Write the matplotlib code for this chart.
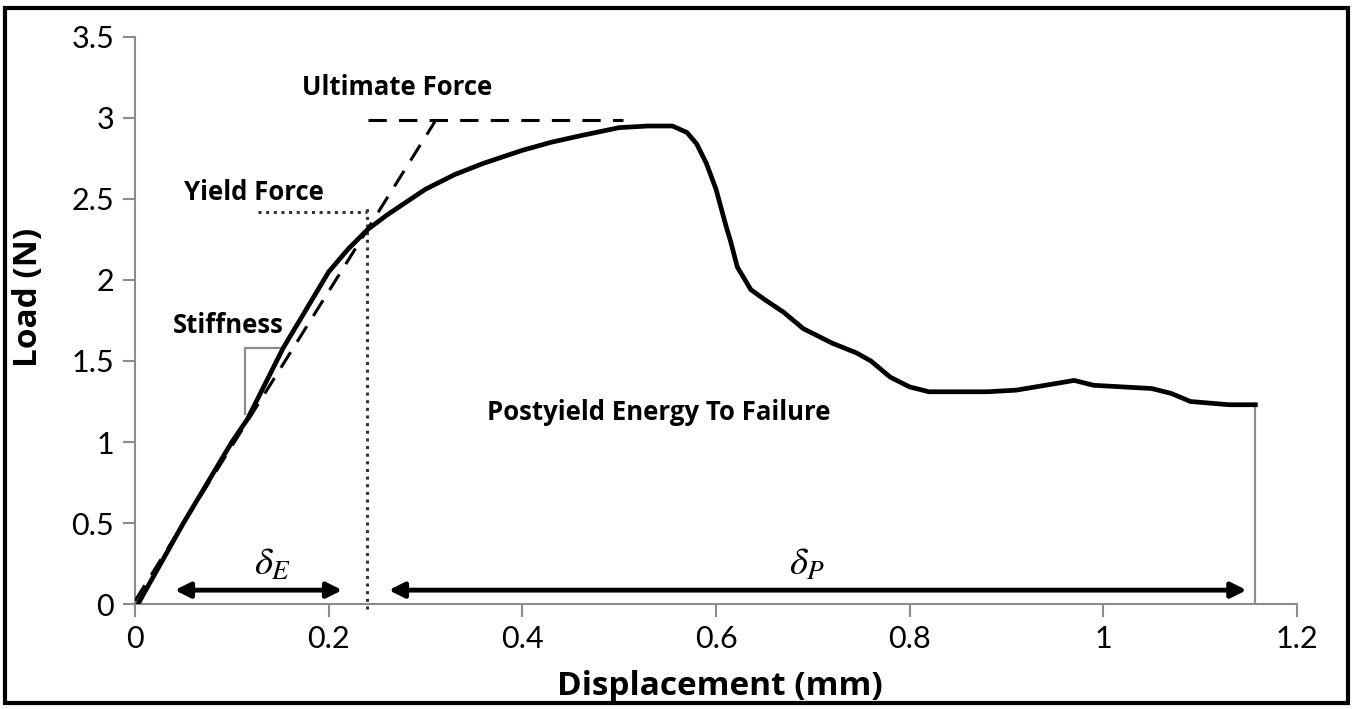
import matplotlib
matplotlib.use("Agg")
import matplotlib.pyplot as plt
from matplotlib.patches import Rectangle

# load-displacement curve
disp = [0.003, 0.05, 0.10, 0.116, 0.153, 0.20, 0.22, 0.24, 0.26, 0.28, 0.30,
        0.33, 0.36, 0.40, 0.43, 0.46, 0.50, 0.53, 0.555, 0.57, 0.58, 0.59,
        0.60, 0.605, 0.61, 0.615, 0.622, 0.63, 0.636, 0.65, 0.67, 0.69, 0.72,
        0.745, 0.76, 0.78, 0.80, 0.82, 0.85, 0.88, 0.91, 0.94, 0.97, 0.99,
        1.02, 1.05, 1.07, 1.09, 1.11, 1.13, 1.157]
load = [0.00, 0.50, 1.00, 1.14, 1.58, 2.05, 2.19, 2.31, 2.40, 2.48, 2.56,
        2.65, 2.72, 2.80, 2.85, 2.89, 2.94, 2.95, 2.95, 2.91, 2.84, 2.72,
        2.56, 2.45, 2.34, 2.24, 2.08, 2.00, 1.94, 1.88, 1.80, 1.70, 1.61,
        1.55, 1.50, 1.40, 1.34, 1.31, 1.31, 1.31, 1.32, 1.35, 1.38, 1.35,
        1.34, 1.33, 1.30, 1.25, 1.24, 1.23, 1.23]

# construction lines
stiff_x = [0.0, 0.31]
stiff_y = [0.02, 2.98]
ult_x = [0.241, 0.504]
ult_y = 2.99
yield_x = 0.240
yield_y = 2.42
yield_top = 2.46
yield_left = 0.127
tri_x = [0.114, 0.153]
tri_y = [1.17, 1.58]
fail_x = 1.157
fail_y = 1.23

xticks = [0, 0.2, 0.4, 0.6, 0.8, 1, 1.2]
xticklabels = ['0', '0.2', '0.4', '0.6', '0.8', '1', '1.2']
yticks = [0, 0.5, 1, 1.5, 2, 2.5, 3, 3.5]
yticklabels = ['0', '0.5', '1', '1.5', '2', '2.5', '3', '3.5']

plt.rcParams['font.family'] = ['Lato', 'DejaVu Sans']
plt.rcParams['mathtext.fontset'] = 'stix'
bold_font = ['Open Sans', 'DejaVu Sans']

fig = plt.figure(figsize=(13.53, 7.09), dpi=100)
ax = fig.add_axes([0.0998, 0.148, 0.8588, 0.800])

grey = '#8c8c8c'
ax.plot(disp, load, color='black', lw=3.4, solid_joinstyle='round', zorder=5)
ax.plot(stiff_x, stiff_y, color='black', lw=2.2, ls=(0, (6, 4)), zorder=4)
ax.plot(ult_x, [ult_y, ult_y], color='black', lw=2.2, ls=(0, (6, 4)), zorder=4)
ax.plot([yield_left, yield_x], [yield_y, yield_y], color='#333333', lw=2.2, ls=(0, (1, 1.5)))
ax.plot([yield_x, yield_x], [-0.03, yield_top], color='#333333', lw=2.2, ls=(0, (1, 1.5)),
        clip_on=False)
ax.plot([tri_x[0], tri_x[0], tri_x[1]], [tri_y[0], tri_y[1], tri_y[1]], color=grey, lw=1.6)
ax.plot([fail_x, fail_x], [0, fail_y], color=grey, lw=1.6)

arrow = dict(arrowstyle='<|-|>,head_length=0.9,head_width=0.45', color='black', lw=3.5,
             shrinkA=0, shrinkB=0)
ax.annotate('', xy=(0.214, 0.086), xytext=(0.041, 0.086), arrowprops=arrow)
ax.annotate('', xy=(1.148, 0.086), xytext=(0.262, 0.086), arrowprops=arrow)
ax.text(0.142, 0.25, r'$\delta_E$', fontsize=28, ha='center', va='center')
ax.text(0.694, 0.25, r'$\delta_P$', fontsize=28, ha='center', va='center')

lab = dict(fontsize=18.5, fontweight='bold', ha='center', va='center', family=bold_font)
ax.text(0.271, 3.185, 'Ultimate Force', **lab)
ax.text(0.123, 2.54, 'Yield Force', **lab)
ax.text(0.096, 1.72, 'Stiffness', **lab)
ax.text(0.541, 1.185, 'Postyield Energy To Failure', **lab)

ax.set_xlim(0, 1.2)
ax.set_ylim(0, 3.5)
ax.set_xticks(xticks)
ax.set_xticklabels(xticklabels)
ax.set_yticks(yticks)
ax.set_yticklabels(yticklabels)
ax.spines['top'].set_visible(False)
ax.spines['right'].set_visible(False)
for s in ['left', 'bottom']:
    ax.spines[s].set_color(grey)
    ax.spines[s].set_linewidth(1.5)
ax.tick_params(direction='out', length=9, width=1.5, color=grey, labelsize=22, pad=6)
ax.set_xlabel('Displacement (mm)', fontsize=24, fontweight='bold', family=bold_font)
ax.set_ylabel('Load (N)', fontsize=24, fontweight='bold', family=bold_font)
ax.xaxis.set_label_coords(0.503, -0.145)
ax.yaxis.set_label_coords(-0.092, 0.54)
ax.xaxis.label.set_va('center')
ax.yaxis.label.set_va('center')

# frame round the whole picture
fig.patches.append(Rectangle((0.0037, 0.0085), 0.9926, 0.9802, transform=fig.transFigure,
                             fill=False, edgecolor='black', lw=3))

fig.savefig('out.png', dpi=100)
